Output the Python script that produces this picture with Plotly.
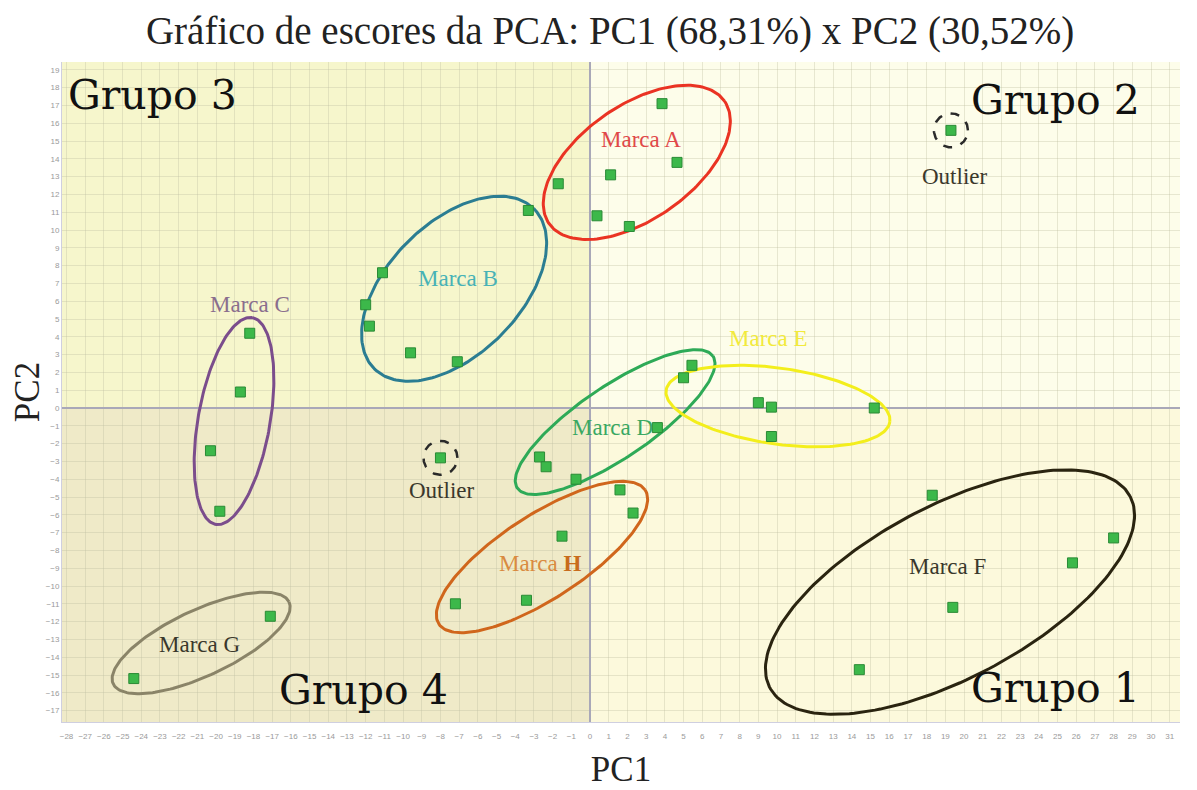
import numpy as np
import plotly.graph_objects as go

# escores PC1 / PC2 por marca
marcas = ["A", "B", "C", "D", "E", "F", "G", "H"]
pc1 = {
    "A": [3.85, 1.1, 4.65, -1.7, 0.37, 2.1],
    "B": [-3.3, -11.1, -12.0, -11.8, -9.6, -7.1],
    "C": [-18.2, -18.7, -20.3, -19.8],
    "D": [5.45, 5.0, 3.6, -2.7, -2.35, -0.75],
    "E": [9.0, 9.7, 15.2, 9.7],
    "F": [18.3, 28.0, 25.8, 19.4, 14.4],
    "G": [-17.1, -24.4],
    "H": [1.6, 2.3, -1.5, -7.2, -3.4],
}
pc2 = {
    "A": [17.1, 13.1, 13.8, 12.6, 10.8, 10.2],
    "B": [11.1, 7.6, 5.8, 4.6, 3.1, 2.6],
    "C": [4.2, 0.9, -2.4, -5.8],
    "D": [2.4, 1.7, -1.1, -2.75, -3.3, -4.0],
    "E": [0.3, 0.05, 0.0, -1.6],
    "F": [-4.9, -7.3, -8.7, -11.2, -14.7],
    "G": [-11.7, -15.2],
    "H": [-4.6, -5.9, -7.2, -11.0, -10.8],
}
outlier_pc1 = [19.3, -8.0]
outlier_pc2 = [15.6, -2.8]

x_ticks = list(range(-28, 32))
y_ticks = list(range(-17, 20))

XR = [-28.24, 31.55]
YR = [-17.64, 19.44]
PX_X, PX_Y = 18.7, 17.8   # pixels por unidade em cada eixo

SERIF = "Liberation Serif, Times New Roman, serif"

# elipses: centro (dados), semi-eixos em px, angulo em graus, cor
elipses = [
    ("A", 2.5, 13.8, 107, 57, 35, "#ea3323"),
    ("B", -7.27, 6.7, 113, 66, 45, "#2b7d92"),
    ("C", -19.04, -0.73, 105, 36, 80, "#7b4d8c"),
    ("D", 1.34, -0.79, 118, 36, 34, "#2eaa57"),
    ("E", 10.05, 0.11, 113, 38, -8, "#f3ee1c"),
    ("F", 19.25, -10.34, 204, 86, 28, "#2a2410"),
    ("G", -20.8, -13.2, 97, 33, 25, "#8a8468"),
    ("H", -2.57, -8.37, 123, 42, 33, "#d0661c"),
]


def ellipse_xy(cx, cy, a, b, ang):
    t = np.linspace(0, 2 * np.pi, 200)
    th = np.radians(ang)
    ex = a * np.cos(t) * np.cos(th) - b * np.sin(t) * np.sin(th)
    ey = a * np.cos(t) * np.sin(th) + b * np.sin(t) * np.cos(th)
    return cx + ex / PX_X, cy + ey / PX_Y


fig = go.Figure()

# quadrantes
quad = [
    (XR[0], 0, 0, YR[1], "#f6f6cc"),
    (XR[0], 0, YR[0], 0, "#efeac8"),
    (0, XR[1], 0, YR[1], "#fdfdea"),
    (0, XR[1], YR[0], 0, "#fcf9dc"),
]
for x0, x1, y0, y1, c in quad:
    fig.add_shape(type="rect", x0=x0, x1=x1, y0=y0, y1=y1, xref="x", yref="y",
                  fillcolor=c, line_width=0, layer="below")

for m, cx, cy, a, b, ang, col in elipses:
    ex, ey = ellipse_xy(cx, cy, a, b, ang)
    fig.add_trace(go.Scatter(x=ex, y=ey, mode="lines", line=dict(color=col, width=3),
                             hoverinfo="skip", showlegend=False))

# circulos tracejados dos outliers
for ox, oy in zip(outlier_pc1, outlier_pc2):
    ex, ey = ellipse_xy(ox, oy, 17, 17, 0)
    fig.add_trace(go.Scatter(x=ex, y=ey, mode="lines",
                             line=dict(color="#2a2a2a", width=2.5, dash="dash"),
                             hoverinfo="skip", showlegend=False))

for m in marcas:
    fig.add_trace(go.Scatter(x=pc1[m], y=pc2[m], mode="markers", name=f"Marca {m}",
                             marker=dict(symbol="square", size=10, color="#3cb84a",
                                         line=dict(color="#2a8a35", width=1)),
                             showlegend=False))
fig.add_trace(go.Scatter(x=outlier_pc1, y=outlier_pc2, mode="markers", name="Outlier",
                         marker=dict(symbol="square", size=10, color="#3cb84a",
                                     line=dict(color="#2a8a35", width=1)),
                         showlegend=False))

rotulos = [
    ("Marca A", 2.73, 15.06, "#e04848"),
    ("Marca B", -7.06, 7.3, "#48b2b6"),
    ("Marca C", -18.18, 5.79, "#8a6e8e"),
    ("Marca D", 1.18, -1.12, "#3aa862"),
    ("Marca E", 9.52, 3.93, "#f2ea3c"),
    ("Marca F", 19.14, -8.88, "#3a382c"),
    ("Marca G", -20.9, -13.26, "#3a382c"),
    ("Marca <span style='color:#c86c1c'><b>H</b></span>", -2.67, -8.71, "#d98a40"),
    ("Outlier", 19.5, 12.98, "#3a382c"),
    ("Outlier", -7.97, -4.66, "#3a382c"),
]
for txt, x, y, c in rotulos:
    fig.add_annotation(x=x, y=y, text=txt, showarrow=False,
                       font=dict(family=SERIF, size=23, color=c))

grupos = [
    ("Grupo 3", -23.4, 17.58),
    ("Grupo 2", 24.87, 17.3),
    ("Grupo 4", -12.09, -15.84),
    ("Grupo 1", 24.87, -15.73),
]
for txt, x, y in grupos:
    fig.add_annotation(x=x, y=y, text=txt, showarrow=False,
                       font=dict(family="DejaVu Serif", size=41, color="#111111"))

# a pagina tem 8px de margem no body: margens compensadas
fig.update_layout(
    width=1197, height=790,
    margin=dict(l=54, r=25, t=54, b=76),
    paper_bgcolor="white", plot_bgcolor="#fdfdea",
    title=dict(text="Gráfico de escores da PCA: PC1 (68,31%) x PC2 (30,52%)",
               x=0.503, xanchor="center", y=0.972, yanchor="middle",
               font=dict(family=SERIF, size=39, color="#222222")),
    font=dict(family="Arial", size=8, color="#999999"),
)
fig.update_xaxes(range=XR, tickvals=x_ticks, showgrid=True, gridcolor="rgba(190,190,160,0.35)",
                 zeroline=True, zerolinecolor="#a9a8b8", zerolinewidth=1.5,
                 showline=True, linecolor="#cfcfe0", ticks="", fixedrange=True, automargin=False,
                 tickfont=dict(size=8, color="#9a9a9a"), ticklabelstandoff=6,
                 title=dict(text="PC1", standoff=16, font=dict(family=SERIF, size=35, color="#222222")))
fig.update_yaxes(range=YR, tickvals=y_ticks, showgrid=True, gridcolor="rgba(190,190,160,0.35)",
                 zeroline=True, zerolinecolor="#a9a8b8", zerolinewidth=1.5,
                 showline=True, linecolor="#cfcfe0", ticks="", fixedrange=True, automargin=False,
                 tickfont=dict(size=8, color="#9a9a9a"),
                 title=dict(text="PC2", standoff=2, font=dict(family=SERIF, size=35, color="#222222")))

fig.write_html("out.html")
